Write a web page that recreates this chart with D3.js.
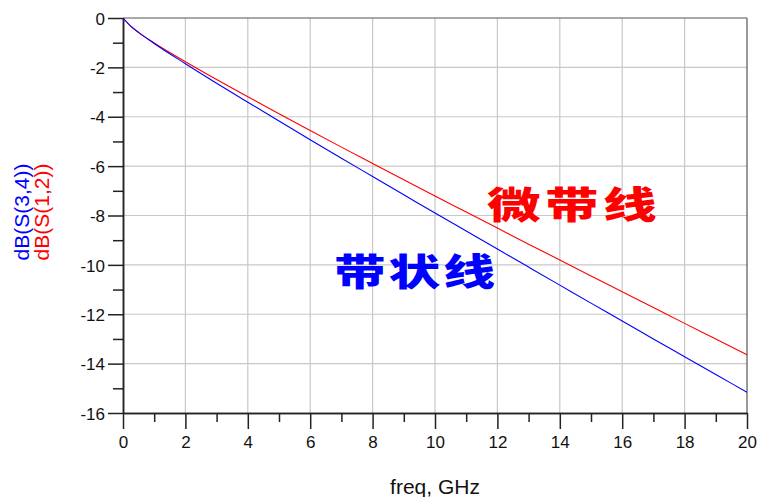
<!DOCTYPE html>
<html><head><meta charset="utf-8">
<script src="https://cdn.jsdelivr.net/npm/d3@7"></script>
<style>body{margin:0;background:#fff}svg{display:block}</style>
</head><body><svg id="c" width="758" height="497"></svg>
<script>
const freq = [0,0.25,0.5,1,2,3,4,5,6,7,8,9,10,11,12,13,14,15,16,17,18,19,20];
const s12 = [0,-0.34,-0.59,-1.01,-1.77,-2.49,-3.19,-3.88,-4.56,-5.23,-5.89,-6.55,-7.21,-7.86,-8.51,-9.16,-9.80,-10.45,-11.09,-11.73,-12.37,-13.00,-13.64];
const s34 = [0,-0.33,-0.58,-1.03,-1.85,-2.64,-3.41,-4.17,-4.93,-5.68,-6.42,-7.16,-7.90,-8.63,-9.36,-10.09,-10.82,-11.55,-12.27,-13.00,-13.72,-14.44,-15.16];
const xTicks = [0,2,4,6,8,10,12,14,16,18,20];
const yTicks = [0,-2,-4,-6,-8,-10,-12,-14,-16];
const xMinor = [1,3,5,7,9,11,13,15,17,19];
const yMinor = [-1,-3,-5,-7,-9,-11,-13,-15];

const svg = d3.select("#c");
const x = d3.scaleLinear().domain([0,20]).range([123,747]);
const y = d3.scaleLinear().domain([0,-16]).range([18,413]);
const font = "Liberation Sans, Arial, sans-serif";

// grid
svg.append("g").selectAll("line").data(xTicks.slice(1,-1)).join("line")
  .attr("x1",d=>x(d)).attr("x2",d=>x(d)).attr("y1",y(0)).attr("y2",y(-16))
  .attr("stroke","#c8c8c8").attr("stroke-width",1.2);
svg.append("g").selectAll("line").data(yTicks.slice(1,-1)).join("line")
  .attr("y1",d=>y(d)).attr("y2",d=>y(d)).attr("x1",x(0)).attr("x2",x(20))
  .attr("stroke","#c8c8c8").attr("stroke-width",1.2);

// frame top/right
svg.append("line").attr("x1",x(0)).attr("x2",x(20)).attr("y1",y(0)).attr("y2",y(0)).attr("stroke","#555").attr("stroke-width",1.2);
svg.append("line").attr("x1",x(20)).attr("x2",x(20)).attr("y1",y(0)).attr("y2",y(-16)).attr("stroke","#555").attr("stroke-width",1.2);

// axes
const fmt = d=>String(d);
const xAxis = svg.append("g").attr("transform",`translate(0,${y(-16)})`)
  .call(d3.axisBottom(x).tickValues(xTicks).tickFormat(fmt).tickSize(16).tickPadding(7).tickSizeOuter(0));
const xAxisMinor = svg.append("g").attr("transform",`translate(0,${y(-16)})`)
  .call(d3.axisBottom(x).tickValues(xMinor).tickSize(9).tickFormat("").tickSizeOuter(0));
const yAxis = svg.append("g").attr("transform",`translate(${x(0)},0)`)
  .call(d3.axisLeft(y).tickValues(yTicks).tickFormat(fmt).tickSize(15).tickPadding(3).tickSizeOuter(0));
const yAxisMinor = svg.append("g").attr("transform",`translate(${x(0)},0)`)
  .call(d3.axisLeft(y).tickValues(yMinor).tickSize(10).tickFormat("").tickSizeOuter(0));
[xAxis,xAxisMinor,yAxis,yAxisMinor].forEach(g=>{
  g.selectAll("path,line").attr("stroke","#222").attr("stroke-width",1.5);
  g.selectAll("text").attr("font-family",font).attr("font-size",17).attr("fill","#111");
});
yAxis.selectAll("text").attr("dy","0.36em");

// lines
const line = (ys)=>d3.line().x((d,i)=>x(freq[i])).y((d)=>y(d)).curve(d3.curveMonotoneX)(ys);
svg.append("path").attr("d",line(s12)).attr("fill","none").attr("stroke","#ff0000").attr("stroke-width",1.1);
svg.append("path").attr("d",line(s34)).attr("fill","none").attr("stroke","#0000ff").attr("stroke-width",1.1);

// axis titles
svg.append("text").attr("x",435).attr("y",494).attr("text-anchor","middle")
  .attr("font-family",font).attr("font-size",21).attr("fill","#111").text("freq, GHz");
svg.append("text").attr("transform","translate(29,212) rotate(-90)").attr("text-anchor","middle")
  .attr("font-family",font).attr("font-size",21).attr("fill","#0000ff").text("dB(S(3,4))");
svg.append("text").attr("transform","translate(49,212) rotate(-90)").attr("text-anchor","middle")
  .attr("font-family",font).attr("font-size",21).attr("fill","#ff0000").text("dB(S(1,2))");

// annotations
const cjk = "'Noto Sans CJK SC', sans-serif";
svg.append("text").attr("transform","translate(487,219) scale(1.45,1)")
  .attr("font-family",cjk).attr("font-weight",900).attr("font-size",37).attr("letter-spacing",3)
  .attr("fill","#ff0000").text("微带线");
svg.append("text").attr("transform","translate(334,286) scale(1.4,1)")
  .attr("font-family",cjk).attr("font-weight",900).attr("font-size",37).attr("letter-spacing",2)
  .attr("fill","#0000ff").text("带状线");
</script></body></html>
